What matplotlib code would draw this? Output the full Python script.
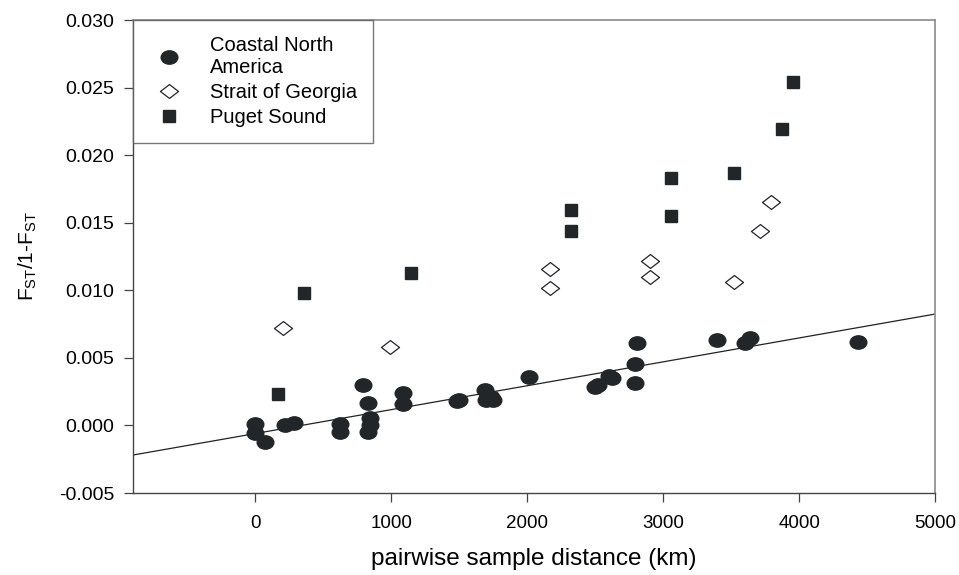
import numpy as np
import matplotlib
matplotlib.use("Agg")
import matplotlib.pyplot as plt
from matplotlib.path import Path
from matplotlib.transforms import Affine2D

plt.rcParams['font.family'] = ['Liberation Sans', 'DejaVu Sans']
plt.rcParams['mathtext.default'] = 'regular'

# Coastal North America
coastal_x = [0, 0, 69, 216, 282, 621, 621, 790, 830, 842, 842, 830, 1088, 1088,
             1483, 1500, 1690, 1700, 1730, 1750, 2010, 2499, 2520, 2602, 2620,
             2793, 2793, 2811, 3395, 3603, 3640, 4431]
coastal_y = [0.0001, -0.00058, -0.00123, 0.0, 0.00015, 0.0001, -0.00046, 0.00297,
             0.00166, 0.00053, 0.00003, -0.00047, 0.00237, 0.00156,
             0.0018, 0.0019, 0.00262, 0.00188, 0.0021, 0.0019, 0.00358, 0.00286,
             0.003, 0.00365, 0.0035, 0.00452, 0.00311, 0.00607, 0.00632, 0.00612,
             0.00649, 0.00619]

# Strait of Georgia
georgia_x = [204, 989, 2165, 2165, 2904, 2904, 3522, 3714, 3797]
georgia_y = [0.00718, 0.00582, 0.01154, 0.01014, 0.01216, 0.0110, 0.01058, 0.01438, 0.01654]

# Puget Sound
puget_x = [167, 356, 1147, 2320, 2320, 3061, 3061, 3522, 3871, 3957]
puget_y = [0.0023, 0.00977, 0.0113, 0.01593, 0.01438, 0.01828, 0.01549, 0.01865, 0.02197, 0.02538]

# regression line
line_x = [-900, 5000]
slope = 1.768e-6
intercept = -0.000599

ellipse = Path.unit_circle().transformed(Affine2D().scale(1.25, 1.0))
diamond = Path([(0, 1), (1.3, 0), (0, -1), (-1.3, 0), (0, 1)],
               [Path.MOVETO, Path.LINETO, Path.LINETO, Path.LINETO, Path.CLOSEPOLY])

fig = plt.figure(figsize=(9.59, 5.75), dpi=100)
ax = fig.add_axes([0.1387, 0.1426, 0.975 - 0.1387, 0.9652 - 0.1426])

dark = '#222628'
ax.plot(line_x, [intercept + slope * v for v in line_x], color='#222222', lw=0.9, zorder=1)
ax.plot(coastal_x, coastal_y, ls='none', marker=ellipse, ms=12, color=dark,
        label='Coastal North\nAmerica', zorder=3)
ax.plot(georgia_x, georgia_y, ls='none', marker=diamond, ms=13, mfc='white',
        mec=dark, mew=0.9, label='Strait of Georgia', zorder=3)
ax.plot(puget_x, puget_y, ls='none', marker='s', ms=9, color=dark,
        label='Puget Sound', zorder=3)

ax.set_xlim(-900, 5000)
ax.set_ylim(-0.005, 0.030)
ax.set_xticks(np.arange(0, 5001, 1000))
ax.set_yticks(np.arange(-0.005, 0.0301, 0.005))
ax.set_yticklabels(['%.3f' % v for v in np.arange(-0.005, 0.0301, 0.005)])
ax.tick_params(direction='out', length=6.5, width=0.9, color='#444444')
ax.tick_params(axis='y', labelsize=14, pad=7)
ax.tick_params(axis='x', labelsize=13.5, pad=9)

for side in ['top', 'right']:
    ax.spines[side].set_color('#8a8a8a')
    ax.spines[side].set_linewidth(1.2)
for side in ['left', 'bottom']:
    ax.spines[side].set_color('#444444')
    ax.spines[side].set_linewidth(1.0)

ax.set_xlabel('pairwise sample distance (km)', fontsize=17.5, labelpad=12)
ax.set_ylabel('F$_{ST}$/1-F$_{ST}$', fontsize=15, labelpad=14)

leg = ax.legend(loc='upper left', bbox_to_anchor=(0.0, 1.0), fontsize=14.5,
                frameon=True, fancybox=False, borderpad=0.8, handletextpad=1.0,
                labelspacing=0.3, handlelength=2.0, borderaxespad=0)
leg.get_frame().set_edgecolor('#555555')
leg.get_frame().set_linewidth(1.0)

fig.savefig('out.png', dpi=100)
